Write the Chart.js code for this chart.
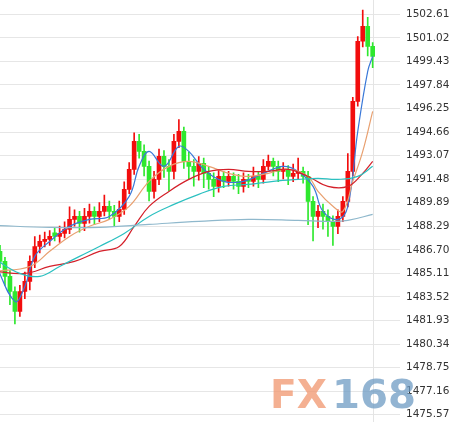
<!DOCTYPE html>
<html>
<head>
<meta charset="utf-8">
<script src="https://cdn.jsdelivr.net/npm/chart.js@4.4.0/dist/chart.umd.min.js"></script>
<style>
html,body{margin:0;padding:0;background:#fff;overflow:hidden;}
#wrap{width:476px;height:422px;overflow:hidden;}
#chart{margin-top:-11px;display:block;}
</style>
</head>
<body>
<div id="wrap"><canvas id="chart" width="476" height="444"></canvas></div>
<script>
// candles, index 0..75
let opens = [1486.60,1485.92,1484.91,1483.89,1482.54,1483.89,1484.57,1485.92,1486.93,1487.27,
  1487.41,1487.85,1487.61,1487.81,1488.08,1488.76,1488.96,1488.49,1488.96,1489.30,
  1488.96,1489.30,1489.64,1489.30,1488.96,1489.43,1490.79,1492.14,1494.03,1493.35,
  1492.34,1490.65,1491.46,1493.02,1492.34,1492.00,1494.03,1494.70,1492.68,1492.34,
  1492.00,1492.54,1491.87,1491.46,1490.99,1491.66,1491.33,1491.66,1491.33,1490.99,
  1491.46,1491.33,1491.66,1491.46,1492.34,1492.68,1492.34,1492.00,1492.14,1491.66,
  1491.87,1492.00,1491.66,1489.97,1488.96,1489.30,1488.96,1488.62,1488.29,1488.96,
  1489.97,1492.00,1496.73,1500.79,1501.80,1500.45];
let closes = [1485.92,1484.91,1483.89,1482.54,1483.89,1484.57,1485.92,1486.93,1487.27,1487.41,
  1487.61,1487.61,1487.81,1488.08,1488.76,1488.96,1488.49,1488.96,1489.30,1488.96,
  1489.30,1489.64,1489.30,1488.96,1489.43,1490.79,1492.14,1494.03,1493.35,1492.34,
  1490.65,1491.46,1493.02,1492.34,1492.00,1494.03,1494.70,1492.68,1492.34,1492.00,
  1492.54,1491.87,1491.46,1490.99,1491.66,1491.33,1491.66,1491.33,1490.99,1491.46,
  1491.33,1491.66,1491.46,1492.34,1492.68,1492.34,1492.00,1492.14,1491.66,1491.87,
  1492.00,1491.66,1489.97,1488.96,1489.30,1488.96,1488.62,1488.29,1488.96,1489.97,
  1492.00,1496.73,1500.79,1501.80,1500.45,1499.77];
let highs = [1487.0,1486.2,1485.3,1484.2,1484.3,1485.2,1486.3,1487.6,1487.7,1487.9,
  1488.0,1488.2,1488.3,1488.6,1489.6,1489.4,1489.3,1489.5,1489.8,1489.6,
  1489.9,1490.4,1490.0,1489.7,1490.0,1491.3,1492.6,1494.6,1494.5,1493.8,
  1492.7,1492.0,1493.5,1493.4,1492.8,1494.5,1495.5,1495.0,1493.3,1492.8,
  1493.0,1492.9,1492.3,1491.9,1492.1,1492.0,1492.0,1491.9,1491.8,1491.9,
  1491.8,1492.3,1492.0,1492.8,1493.1,1492.9,1492.7,1492.6,1492.4,1492.5,
  1492.9,1492.3,1492.0,1490.3,1489.7,1489.8,1489.4,1489.0,1489.4,1490.3,
  1493.2,1497.0,1501.1,1502.9,1502.4,1500.7];
let lows = [1485.5,1484.3,1483.0,1481.7,1482.2,1483.4,1484.0,1485.5,1486.5,1486.9,
  1487.0,1487.3,1487.2,1487.5,1487.8,1488.3,1487.9,1488.0,1488.5,1488.4,
  1488.6,1489.0,1488.8,1488.3,1488.6,1489.1,1490.5,1491.8,1492.9,1491.7,
  1490.0,1490.2,1491.1,1491.6,1490.7,1491.5,1493.6,1492.2,1491.5,1491.0,
  1491.4,1490.9,1490.8,1490.3,1490.6,1490.9,1491.0,1490.8,1490.5,1490.6,
  1490.9,1491.0,1490.9,1491.2,1492.1,1491.7,1491.3,1491.5,1491.1,1491.3,
  1491.5,1491.2,1488.4,1487.3,1488.2,1488.1,1487.6,1487.0,1487.8,1488.6,
  1489.6,1491.7,1496.4,1500.4,1499.8,1499.0];

// moving averages: [index, value]
let ma5 = [[-1,1485.8],[3,1483.22],[5,1484.23],[7,1486.26],[10,1487.27],[14,1488.29],[18,1488.76],
  [22,1488.96],[26,1490.31],[28,1492.34],[30,1493.35],[33,1492.34],[36,1493.69],[38,1493.35],
  [41,1492.14],[45,1491.33],[49,1491.33],[53,1491.87],[57,1492.34],[60,1492.00],[63,1490.99],
  [65,1489.30],[68,1488.76],[70,1489.64],[72,1494.70],[74,1498.76],[75,1499.77]];
let ma10 = [[-1,1485.25],[6,1485.58],[10,1486.60],[14,1487.61],[18,1488.29],[22,1488.76],
  [26,1489.64],[30,1491.33],[34,1492.34],[38,1492.68],[42,1492.34],[46,1491.87],[50,1491.66],
  [54,1491.87],[58,1492.14],[62,1491.66],[64,1490.65],[67,1489.64],[69,1489.30],[71,1491.33],
  [73,1493.35],[75,1496.06]];
let ma20 = [[-1,1485.25],[5,1485.11],[10,1485.58],[15,1485.92],[20,1486.60],[24,1486.93],
  [27,1488.29],[30,1489.64],[34,1490.65],[38,1491.46],[42,1492.00],[46,1492.14],[50,1492.00],
  [54,1492.00],[58,1492.14],[62,1491.66],[66,1490.99],[70,1490.99],[73,1491.87],[75,1492.68]];
let ma40 = [[-1,1486.06],[4,1485.11],[8,1484.91],[12,1485.58],[16,1486.26],[20,1486.93],
  [25,1487.81],[30,1488.96],[35,1489.77],[40,1490.45],[45,1490.99],[50,1491.12],[55,1491.33],
  [60,1491.46],[64,1491.53],[68,1491.46],[72,1491.66],[75,1492.34]];
let ma60 = [[-1,1488.35],[10,1488.22],[20,1488.22],[30,1488.42],[40,1488.62],[50,1488.76],
  [60,1488.69],[67,1488.62],[70,1488.69],[75,1489.10]];

let yTicks = [1475.57,1477.16,1478.75,1480.34,1481.93,1483.52,1485.11,1486.70,1488.29,1489.89,
  1491.48,1493.07,1494.66,1496.25,1497.84,1499.43,1501.02,1502.61];

const RED = '#f20d0d', GREEN = '#2ee82e';
let colors = opens.map((o, i) => closes[i] >= o ? RED : GREEN);
let bodies = opens.map((o, i) => ({x: i, y: o === closes[i] ? [o - 0.04, o + 0.04] : [o, closes[i]]}));
let wicks = opens.map((o, i) => ({x: i, y: [lows[i], highs[i]]}));
const toPts = a => a.map(p => ({x: p[0], y: p[1]}));

function maSet(data, color) {
  return {type: 'line', data: toPts(data), borderColor: color, borderWidth: 1.2,
    pointRadius: 0, tension: 0.4, fill: false};
}

function fitText(c, txt, x, y, w) {
  const m = c.measureText(txt).width;
  c.save();
  c.translate(x, y);
  c.scale(w / m, 1);
  c.fillText(txt, 0, 0);
  c.restore();
}

const extras = {
  id: 'extras',
  beforeDatasetsDraw(chart) {
    const c = chart.ctx, xs = chart.scales.x;
    const x = Math.round(xs.getPixelForValue(75)) + 0.5;
    c.save();
    c.strokeStyle = '#e4e4e4';
    c.lineWidth = 1;
    c.beginPath(); c.moveTo(x, 0); c.lineTo(x, chart.height); c.stroke();
    // canvas sits 11px higher than the page
    c.font = 'bold 39px "DejaVu Sans"';
    c.textBaseline = 'alphabetic';
    c.fillStyle = 'rgba(240,150,110,0.75)';
    fitText(c, 'FX', 270, 419, 57);
    c.fillStyle = 'rgba(110,155,195,0.75)';
    fitText(c, '168', 332, 419, 84);
    c.restore();
  }
};

new Chart(document.getElementById('chart').getContext('2d'), {
  type: 'bar',
  data: {
    datasets: [
      maSet(ma60, '#8fb8cc'),
      maSet(ma40, '#2bc0c0'),
      maSet(ma20, '#d4202a'),
      maSet(ma10, '#e8a070'),
      maSet(ma5, '#3a78d8'),
      {type: 'bar', data: wicks, backgroundColor: colors, barThickness: 1, grouped: false, order: 2},
      {type: 'bar', data: bodies, backgroundColor: colors, barThickness: 4, grouped: false, order: 1}
    ]
  },
  options: {
    responsive: false,
    animation: false,
    layout: {padding: 0},
    plugins: {legend: {display: false}, tooltip: {enabled: false}},
    scales: {
      x: {type: 'linear', min: 0, max: 80.5, offset: false, display: false},
      y: {
        position: 'right', min: 1475.16, max: 1503.49,
        afterBuildTicks: s => { s.ticks = yTicks.map(v => ({value: v})); },
        afterFit: s => { s.width = 76; },
        ticks: {color: '#333', font: {family: 'DejaVu Sans', size: 10.5}, padding: 6,
          callback: v => v.toFixed(2)},
        grid: {color: '#e6e6e6', drawTicks: false},
        border: {display: false}
      }
    }
  },
  plugins: [extras]
});
</script>
</body>
</html>
